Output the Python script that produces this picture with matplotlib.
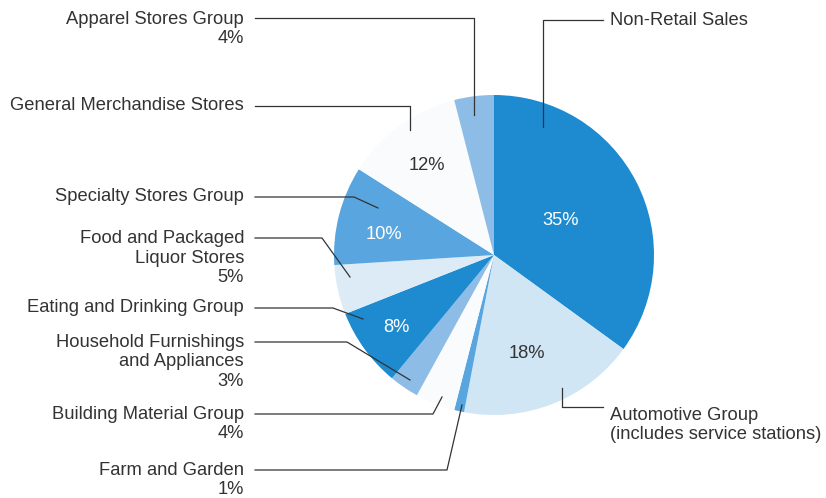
import matplotlib.pyplot as plt

# Retail sales share, clockwise from the top
categories = [
    "Non-Retail Sales", "Automotive Group", "Farm and Garden",
    "Building Material Group", "Household Furnishings and Appliances",
    "Eating and Drinking Group", "Food and Packaged Liquor Stores",
    "Specialty Stores Group", "General Merchandise Stores", "Apparel Stores Group",
]
shares = [35, 18, 1, 4, 3, 8, 5, 10, 12, 4]

dark = "#1e8bd0"
mid = "#58a5df"
soft = "#8dbde6"
light = "#d0e6f5"
pale = "#dcebf6"
white = "#f9fbfd"
colors = [dark, light, mid, white, soft, dark, pale, mid, white, soft]

W, H = 826, 498
cx, cy, R = 494, 255, 160


def py(y):
    # image pixel row -> data y
    return H - y


fig = plt.figure(figsize=(W / 100, H / 100), dpi=100)
ax = fig.add_axes([0, 0, 1, 1])

wedges, _ = ax.pie(shares, colors=colors, startangle=90, counterclock=False,
                   center=(cx, py(cy)), radius=R, frame=True,
                   wedgeprops=dict(linewidth=0))
ax.set_xlim(0, W)
ax.set_ylim(0, H)
ax.set_aspect("equal")
ax.axis("off")

font = dict(family="Liberation Sans", fontsize=13.2, color="#333333")

# percentages printed inside the pie (label text, x, y, colour)
inside = [("35%", 561, 220, "white"), ("18%", 527, 353, "#333333"),
          ("12%", 427, 165, "#333333"), ("10%", 384, 234, "white"),
          ("8%", 396, 328, "white")]
for txt, x, y, c in inside:
    ax.text(x, py(y), txt, ha="center", va="center",
            **{**font, "color": c})

# left-hand labels: text, text y (centre), leader path
left_labels = [
    ("Apparel Stores Group\n4%", 29, [(255, 18), (474, 18), (474, 115)]),
    ("General Merchandise Stores", 105, [(255, 106), (410, 106), (410, 130)]),
    ("Specialty Stores Group", 196, [(255, 197), (354, 197), (378, 208)]),
    ("Food and Packaged\nLiquor Stores\n5%", 258, [(255, 238), (322, 238), (350, 277)]),
    ("Eating and Drinking Group", 308, [(255, 308), (333, 308), (363, 319)]),
    ("Household Furnishings\nand Appliances\n3%", 362, [(255, 342), (347, 342), (410, 380)]),
    ("Building Material Group\n4%", 424, [(255, 414), (433, 414), (442, 397)]),
    ("Farm and Garden\n1%", 480, [(255, 470), (447, 470), (462, 405)]),
]
for txt, y, path in left_labels:
    ax.text(244, py(y), txt, ha="right", va="center", linespacing=1.17, **font)
    xs = [p[0] for p in path]
    ys = [py(p[1]) for p in path]
    ax.plot(xs, ys, color="#333333", lw=0.9)

right_labels = [
    ("Non-Retail Sales", 20, [(603, 20), (543, 20), (543, 127)]),
    ("Automotive Group\n(includes service stations)", 425, [(603, 407), (562, 407), (562, 388)]),
]
for txt, y, path in right_labels:
    ax.text(610, py(y), txt, ha="left", va="center", linespacing=1.12, **font)
    xs = [p[0] for p in path]
    ys = [py(p[1]) for p in path]
    ax.plot(xs, ys, color="#333333", lw=0.9)

fig.savefig("out.png", dpi=100)
